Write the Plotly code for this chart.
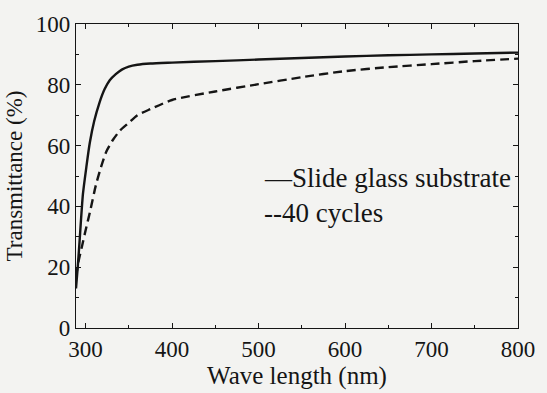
import plotly.graph_objects as go

# Data
wl_glass = [289, 291, 293, 297, 301, 305, 310, 316, 322, 328, 335, 342, 350, 360,
            375, 400, 450, 500, 550, 600, 650, 700, 750, 800]
t_glass = [13, 20, 28, 44, 53, 61, 68, 74, 78.5, 81.5, 83.5, 85, 86, 86.6,
           87, 87.3, 87.8, 88.3, 88.8, 89.3, 89.7, 90, 90.3, 90.6]

wl_40 = [289, 292, 296, 300, 305, 312, 318, 324, 332, 340, 350, 360, 375, 400,
         450, 500, 550, 600, 650, 700, 750, 800]
t_40 = [17, 22, 27, 32, 38, 47, 53, 58, 62, 65, 67.5, 70, 72, 75,
        77.8, 80.2, 82.5, 84.5, 85.8, 86.8, 87.8, 88.6]

legend_labels = ["\u2014Slide glass substrate", "--40 cycles"]
x_ticks = [300, 400, 500, 600, 700, 800]
y_ticks = [0, 20, 40, 60, 80, 100]

ink = "#151515"
bg = "#f3f3f1"
font = "'Liberation Serif', 'Times New Roman', 'DejaVu Serif', serif"

fig = go.Figure()
fig.add_trace(go.Scatter(x=wl_glass, y=t_glass, mode="lines", name="Slide glass substrate",
                         line=dict(color=ink, width=2.4, shape="spline", smoothing=0.6),
                         showlegend=False))
fig.add_trace(go.Scatter(x=wl_40, y=t_40, mode="lines", name="40 cycles",
                         line=dict(color=ink, width=2.4, dash="9px,5px", shape="spline",
                                   smoothing=0.6),
                         showlegend=False))

axis_common = dict(showline=True, linecolor=ink, linewidth=1.4, mirror="allticks",
                   ticks="inside", ticklen=5, tickcolor=ink, tickwidth=1.2,
                   showgrid=False, zeroline=False,
                   tickfont=dict(family=font, size=23, color=ink))

fig.update_xaxes(range=[289, 800], tickvals=x_ticks, ticktext=[str(v) for v in x_ticks],
                 minor=dict(dtick=50, tick0=300, ticks="inside", ticklen=3, tickcolor=ink),
                 title=dict(text="Wave length (nm)", font=dict(family=font, size=25, color=ink),
                            standoff=2),
                 **axis_common)
fig.update_yaxes(range=[0, 100], tickvals=y_ticks, ticktext=[str(v) for v in y_ticks],
                 minor=dict(dtick=10, tick0=0, ticks="inside", ticklen=3, tickcolor=ink),
                 title=dict(text="Transmittance (%)", font=dict(family=font, size=23, color=ink),
                            standoff=6),
                 **axis_common)

for i, lab in enumerate(legend_labels):
    fig.add_annotation(x=0.42, y=0.493 - i * 0.115, xref="paper", yref="paper",
                       xanchor="left", yanchor="middle", showarrow=False,
                       text=lab, font=dict(family=font, size=27, color=ink))

fig.update_layout(width=547, height=393, margin=dict(l=76, r=21, t=20, b=65),
                  paper_bgcolor=bg, plot_bgcolor=bg)

fig.write_html("out.html")
